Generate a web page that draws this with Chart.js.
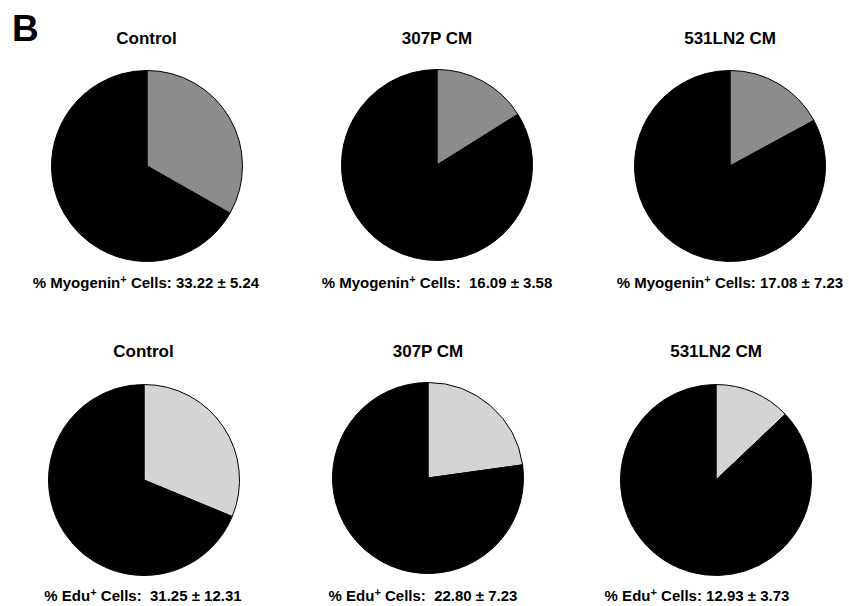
<!DOCTYPE html>
<html>
<head>
<meta charset="utf-8">
<script src="https://cdn.jsdelivr.net/npm/chart.js@4"></script>
<style>
  body { margin: 0; background: #fff; }
  #panel { position: relative; width: 849px; height: 606px; overflow: hidden;
           font-family: "Liberation Sans", Arial, sans-serif; font-weight: bold; color: #000; }
  .lbl { position: absolute; transform: translate(-50%, -50%); white-space: pre; }
  .title { font-size: 17px; }
  .cap { font-size: 15px; }
  .cap sup { font-size: 11px; vertical-align: 5px; line-height: 0; }
  .pie { position: absolute; }
  #letter { position: absolute; left: 12px; top: 8px; font-size: 37px; }
</style>
</head>
<body>
<div id="panel"><div id="letter">B</div></div>
<script>
// groups shown in each row
const groups = ['Control', '307P CM', '531LN2 CM'];

// row 1: myogenin positive cells (%)
const myogeninMean = [33.22, 16.09, 17.08];
const myogeninSem = ['5.24', '3.58', '7.23'];
// row 2: Edu positive cells (%)
const eduMean = [31.25, 22.80, 12.93];
const eduSem = ['12.31', '7.23', '3.73'];

const rows = [
  { marker: 'Myogenin', mean: myogeninMean, sem: myogeninSem, fill: '#8c8c8c',
    centers: [[146.5, 166], [437, 164.5], [730, 166]], titleY: 39, capY: 282, capX: [146, 437, 730],
    gap: [' ', '  ', ' '] },
  { marker: 'Edu', mean: eduMean, sem: eduSem, fill: '#d4d4d4',
    centers: [[143.5, 479.5], [428, 478], [716, 480]], titleY: 352, capY: 595, capX: [143, 423, 697],
    gap: ['  ', '  ', ' '] }
];

const R = 95;
const panel = document.getElementById('panel');

function addLabel(cls, x, y, html) {
  const d = document.createElement('div');
  d.className = 'lbl ' + cls;
  d.style.left = x + 'px';
  d.style.top = y + 'px';
  d.innerHTML = html;
  panel.appendChild(d);
}

rows.forEach(function (row) {
  groups.forEach(function (g, i) {
    const [cx, cy] = row.centers[i];
    addLabel('title', cx, row.titleY, g);
    addLabel('cap', row.capX[i], row.capY,
      '% ' + row.marker + '<sup>+</sup> Cells:' + row.gap[i] + row.mean[i].toFixed(2) + ' \u00b1 ' + row.sem[i]);

    const c = document.createElement('canvas');
    c.className = 'pie';
    c.width = 2 * R + 2;
    c.height = 2 * R + 2;
    c.style.left = (cx - R - 1) + 'px';
    c.style.top = (cy - R - 1) + 'px';
    panel.appendChild(c);

    new Chart(c.getContext('2d'), {
      type: 'pie',
      data: {
        labels: ['positive', 'negative'],
        datasets: [{
          data: [row.mean[i], 100 - row.mean[i]],
          backgroundColor: [row.fill, '#000'],
          borderColor: '#000',
          borderWidth: 1
        }]
      },
      options: {
        responsive: false,
        animation: false,
        layout: { padding: 0 },
        plugins: { legend: { display: false }, tooltip: { enabled: false } }
      }
    });
  });
});
</script>
</body>
</html>
